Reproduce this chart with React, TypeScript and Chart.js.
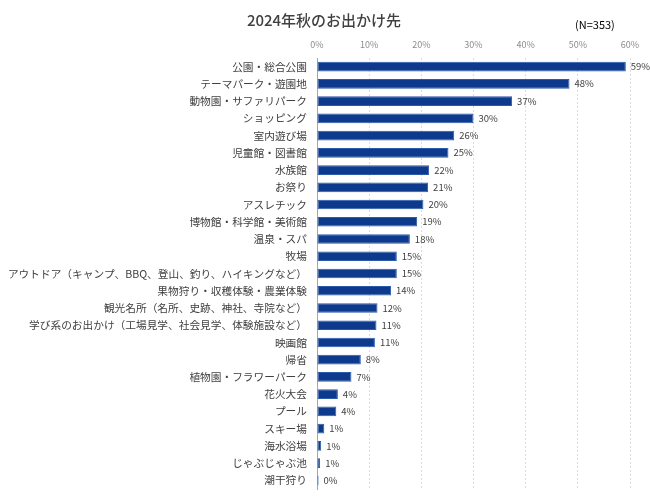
import React from 'react';
import { Chart, registerables } from 'chart.js';

Chart.register(...registerables);

const chartTitle = '2024年秋のお出かけ先';
const sampleNote = '(N=353)';

const categories = [
    '公園・総合公園',
    'テーマパーク・遊園地',
    '動物園・サファリパーク',
    'ショッピング',
    '室内遊び場',
    '児童館・図書館',
    '水族館',
    'お祭り',
    'アスレチック',
    '博物館・科学館・美術館',
    '温泉・スパ',
    '牧場',
    'アウトドア（キャンプ、BBQ、登山、釣り、ハイキングなど）',
    '果物狩り・収穫体験・農業体験',
    '観光名所（名所、史跡、神社、寺院など）',
    '学び系のお出かけ（工場見学、社会見学、体験施設など）',
    '映画館',
    '帰省',
    '植物園・フラワーパーク',
    '花火大会',
    'プール',
    'スキー場',
    '海水浴場',
    'じゃぶじゃぶ池',
    '潮干狩り',
];

// share of respondents (%)
const shares = [
    59.2, 48.4, 37.4, 30.0, 26.3, 25.2, 21.5, 21.3, 20.4, 19.2, 17.8, 15.3, 15.3,
    14.2, 11.6, 11.4, 11.1, 8.4, 6.6, 4.0, 3.7, 1.4, 0.8, 0.6, 0.3,
];

const xTicks = [0, 10, 20, 30, 40, 50, 60];

const jpFont = '"Noto Sans CJK JP", "Noto Sans", sans-serif';

const textPlugin = {
    id: 'textPlugin',
    afterDatasetsDraw(chart: any) {
        const ctx = chart.ctx;
        const meta = chart.getDatasetMeta(0);
        ctx.save();
        ctx.font = `9.5px ${jpFont}`;
        ctx.fillStyle = '#404040';
        ctx.textAlign = 'left';
        ctx.textBaseline = 'middle';
        meta.data.forEach((bar: any, i: number) => {
            ctx.fillText(Math.round(shares[i]) + '%', bar.x + 5, bar.y);
        });
        ctx.restore();
    },
    afterDraw(chart: any) {
        const ctx = chart.ctx;
        ctx.save();
        ctx.font = `500 15px ${jpFont}`;
        ctx.fillStyle = '#404040';
        ctx.textAlign = 'center';
        ctx.textBaseline = 'middle';
        ctx.fillText(chartTitle, 324, 20);
        ctx.font = `11px ${jpFont}`;
        ctx.fillStyle = '#000000';
        ctx.textAlign = 'left';
        ctx.fillText(sampleNote, 575, 25);
        ctx.restore();
    },
};

const App = () => {
    const canvasRef = React.useRef<HTMLCanvasElement>(null);

    React.useEffect(() => {
        const canvas = canvasRef.current;
        if (!canvas) return;

        const chart = new Chart(canvas, {
            type: 'bar',
            data: {
                labels: categories,
                datasets: [{
                    data: shares,
                    backgroundColor: '#0d3a8c',
                    borderColor: '#2b5aab',
                    borderWidth: 1,
                    borderSkipped: false,
                    categoryPercentage: 1,
                    barPercentage: 0.56,
                }],
            },
            options: {
                indexAxis: 'y',
                animation: false,
                responsive: false,
                layout: { padding: { top: 38, right: 20, bottom: 12, left: 0 } },
                plugins: {
                    legend: { display: false },
                    tooltip: { enabled: false },
                    title: { display: false },
                },
                scales: {
                    x: {
                        position: 'top',
                        min: 0,
                        max: 60,
                        afterFit: (scale: any) => { scale.height = 20; },
                        afterBuildTicks: (scale: any) => {
                            scale.ticks = xTicks.map((v) => ({ value: v }));
                        },
                        ticks: {
                            padding: 8,
                            color: '#8c8c8c',
                            font: { size: 9, family: jpFont },
                            callback: (v: any) => v + '%',
                        },
                        grid: {
                            drawTicks: false,
                            color: '#dcdcdc',
                        },
                        border: { display: false, dash: [2, 2] },
                    },
                    y: {
                        afterFit: (scale: any) => {
                            scale.width = 317;
                            scale.paddingTop = 0;
                            scale.paddingBottom = 0;
                        },
                        ticks: {
                            padding: 10,
                            color: '#404040',
                            font: { size: 10.7, family: jpFont },
                            autoSkip: false,
                        },
                        grid: { display: false, drawTicks: false },
                        border: { display: true, color: '#a6a6a6', width: 1 },
                    },
                },
            },
            plugins: [textPlugin],
        });

        return () => {
            chart.destroy();
        };
    }, []);

    return (
        <div style={{ position: 'fixed', left: 0, top: 0, width: 650, height: 501, background: '#fff' }}>
            <canvas ref={canvasRef} width={650} height={501}></canvas>
        </div>
    );
};

export default App;
